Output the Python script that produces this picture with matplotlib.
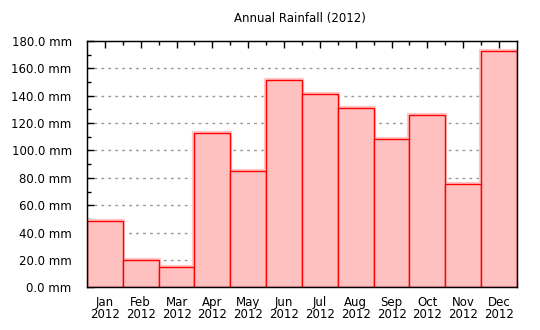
import numpy as np
import matplotlib
matplotlib.use("Agg")
import matplotlib.pyplot as plt
from matplotlib.ticker import MultipleLocator, FixedLocator, FuncFormatter

# datos
meses = ["Jan", "Feb", "Mar", "Apr", "May", "Jun",
         "Jul", "Aug", "Sep", "Oct", "Nov", "Dec"]
anio = "2012"
lluvia_mm = [48.8, 19.7, 14.6, 112.8, 84.8, 151.3,
             141.3, 130.8, 108.4, 126.0, 75.3, 172.7]

COLOR_RELLENO = "#FFC0C0"
COLOR_BORDE = "#FF0000"

fig = plt.figure(figsize=(5.4, 3.3), dpi=100)
ax = fig.add_axes([0.1611, 0.1294, 0.7963, 0.7464])

x = np.arange(len(meses))
# halo claro y luego la barra con borde rojo
ax.bar(x, lluvia_mm, width=1.0, color=COLOR_RELLENO,
       edgecolor="#FFC8C8", linewidth=3, zorder=2)
ax.bar(x, lluvia_mm, width=1.0, color=COLOR_RELLENO,
       edgecolor=COLOR_BORDE, linewidth=1.0, zorder=3)

ax.set_xlim(-0.5, len(meses) - 0.5)
ax.set_ylim(0, 180)

# eje Y
ax.yaxis.set_major_locator(MultipleLocator(20))
ax.yaxis.set_minor_locator(MultipleLocator(10))
ax.yaxis.set_major_formatter(FuncFormatter(lambda v, p: f"{v:.1f} mm"))
ax.tick_params(axis="y", which="major", direction="in", length=5,
               width=1, labelsize=8.5, pad=11)
ax.tick_params(axis="y", which="minor", direction="in", length=3, width=1)
ax.tick_params(axis="y", right=False, which="both")
for grid_y in range(20, 180, 20):
    ax.axhline(grid_y, color="#999999", linestyle=(0, (2, 3)),
               linewidth=1, zorder=1)

# eje X: etiquetas abajo, ticks solo arriba
ax.set_xticks(x)
ax.set_xticklabels([f"{m}\n{anio}" for m in meses], fontsize=8.5,
                   linespacing=0.95)
ax.xaxis.set_minor_locator(FixedLocator(np.arange(0.5, len(meses) - 0.5)))
ax.tick_params(axis="x", which="both", bottom=False, top=True,
               direction="in", width=1, pad=6)
ax.tick_params(axis="x", which="major", length=5)
ax.tick_params(axis="x", which="minor", length=3)

for lado in ax.spines.values():
    lado.set_linewidth(1.05)
    lado.set_color("black")
    lado.set_zorder(10)

fig.text(0.556, 0.945, "Annual Rainfall (2012)", ha="center",
         va="center", fontsize=8.5)

fig.savefig("out.png", dpi=100)
